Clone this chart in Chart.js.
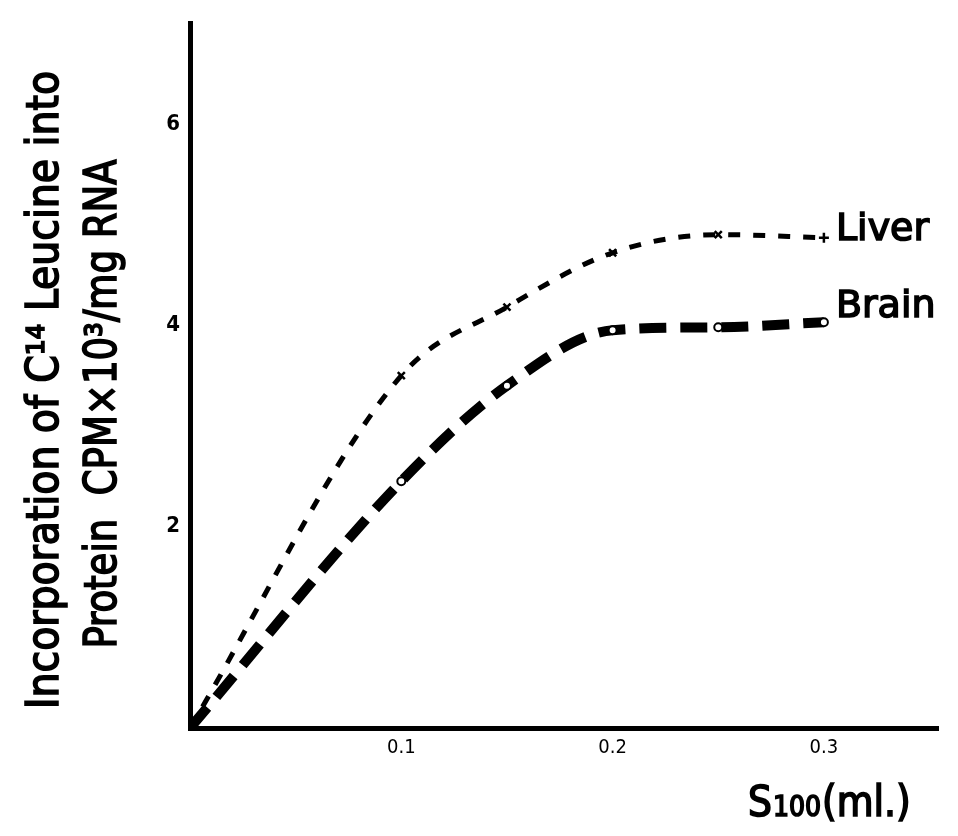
<!DOCTYPE html>
<html>
<head>
<meta charset="utf-8">
<title>Incorporation of C14 Leucine - Liver / Brain</title>
<script src="https://cdn.jsdelivr.net/npm/chart.js@4.4.1/dist/chart.umd.min.js"></script>
<style>
  html, body { margin: 0; padding: 0; background: #fff; }
  canvas { display: block; }
</style>
</head>
<body>
<canvas id="incorporationChart" width="958" height="836"></canvas>
<script>
// S100 volume (ml.) on the x axis
const s100Volume = [0, 0.1, 0.15, 0.2, 0.25, 0.3];
// CPM x 10^3 / mg RNA
const liverCpm = [0, 3.5, 4.18, 4.72, 4.9, 4.87];
const brainCpm = [0, 2.45, 3.4, 3.95, 3.98, 4.03];
const seriesNames = ['Liver', 'Brain'];

const xTickValues = [0.1, 0.2, 0.3];
const yTickValues = [2, 4, 6];

const yTitleLines = ['Incorporation of C\u00b9\u2074 Leucine into', 'Protein  CPM\u00d710\u00b3/mg RNA'];
const xTitleParts = ['S', '100', '(ml.)'];

const FONT = '"DejaVu Sans Condensed", "DejaVu Sans", sans-serif';

function toPoints(xs, ys) {
  return xs.map(function(x, i) { return { x: x, y: ys[i] }; });
}

// fill + thin stroke gives a medium weight
function heavyText(ctx, text, x, y) {
  ctx.lineWidth = 1.6;
  ctx.strokeStyle = '#000';
  ctx.fillText(text, x, y);
  ctx.strokeText(text, x, y);
}

// rotated text, squeezed to a given length
function drawRotated(ctx, text, x, y, length, font) {
  ctx.save();
  ctx.translate(x, y);
  ctx.rotate(-Math.PI / 2);
  ctx.font = font;
  const w = ctx.measureText(text).width;
  ctx.scale(length / w, 1);
  ctx.textAlign = 'center';
  ctx.textBaseline = 'alphabetic';
  ctx.fillStyle = '#000';
  heavyText(ctx, text, 0, 0);
  ctx.restore();
}

const labelLift = [8, 15];

const figureText = {
  id: 'figureText',
  afterDraw(chart) {
    const ctx = chart.ctx;

    // y axis title, two lines
    drawRotated(ctx, yTitleLines[0], 58, 390, 638, '44px ' + FONT);
    drawRotated(ctx, yTitleLines[1], 116, 404, 489, '44px ' + FONT);

    // x axis title  S100(ml.)
    ctx.save();
    ctx.fillStyle = '#000';
    ctx.textBaseline = 'alphabetic';
    ctx.textAlign = 'left';
    const fonts = ['42px ' + FONT, '28px ' + FONT, '42px ' + FONT];
    let x = 748;
    xTitleParts.forEach(function(part, i) {
      ctx.font = fonts[i];
      heavyText(ctx, part, x, 816);
      x += ctx.measureText(part).width + 1;
    });
    ctx.restore();

    // series names at the end of each curve
    ctx.save();
    ctx.fillStyle = '#000';
    ctx.font = '38px "DejaVu Sans", sans-serif';
    ctx.textAlign = 'left';
    ctx.textBaseline = 'middle';
    chart.data.datasets.forEach(function(ds, i) {
      const meta = chart.getDatasetMeta(i);
      const last = meta.data[meta.data.length - 1];
      heavyText(ctx, seriesNames[i], last.x + 12, last.y - labelLift[i]);
    });
    ctx.restore();
  }
};

const ctx = document.getElementById('incorporationChart').getContext('2d');
const incorporationChart = new Chart(ctx, {
  type: 'line',
  data: {
    datasets: [{
      label: seriesNames[0],
      data: toPoints(s100Volume, liverCpm),
      borderColor: '#000',
      borderWidth: 5,
      borderDash: [12, 13],
      borderCapStyle: 'butt',
      cubicInterpolationMode: 'monotone',
      pointStyle: ['crossRot', 'crossRot', 'crossRot', 'crossRot', 'crossRot', 'cross'],
      pointRadius: [0, 5, 5, 5, 5, 5],
      pointBorderWidth: 2.5,
      pointBorderColor: '#000',
      pointBackgroundColor: '#000',
      fill: false
    }, {
      label: seriesNames[1],
      data: toPoints(s100Volume, brainCpm),
      borderColor: '#000',
      borderWidth: 10,
      borderDash: [27, 14],
      borderCapStyle: 'butt',
      cubicInterpolationMode: 'monotone',
      pointStyle: 'circle',
      pointRadius: [0, 4, 4, 4, 4, 4],
      pointBorderWidth: 2,
      pointBorderColor: '#000',
      pointBackgroundColor: '#fff',
      fill: false
    }]
  },
  options: {
    responsive: false,
    animation: false,
    layout: { padding: { top: 14, right: 20, left: 0, bottom: 0 } },
    plugins: {
      legend: { display: false },
      tooltip: { enabled: false }
    },
    scales: {
      x: {
        type: 'linear',
        min: 0,
        max: 0.354,
        afterFit: function(scale) { scale.height = 108; },
        afterBuildTicks: function(scale) {
          scale.ticks = xTickValues.map(function(v) { return { value: v }; });
        },
        grid: { display: false, drawTicks: false },
        border: { display: true, width: 5, color: '#000' },
        ticks: {
          padding: 8,
          color: '#000',
          font: { family: FONT, size: 20 },
          callback: function(v) { return v.toFixed(1); }
        }
      },
      y: {
        type: 'linear',
        min: 0,
        max: 7,
        afterFit: function(scale) { scale.width = 190; },
        afterBuildTicks: function(scale) {
          scale.ticks = yTickValues.map(function(v) { return { value: v }; });
        },
        grid: { display: false, drawTicks: false },
        border: { display: true, width: 5, color: '#000' },
        ticks: {
          padding: 10,
          color: '#000',
          font: { family: FONT, size: 22, weight: 'bold' }
        }
      }
    }
  },
  plugins: [figureText]
});
</script>
</body>
</html>
